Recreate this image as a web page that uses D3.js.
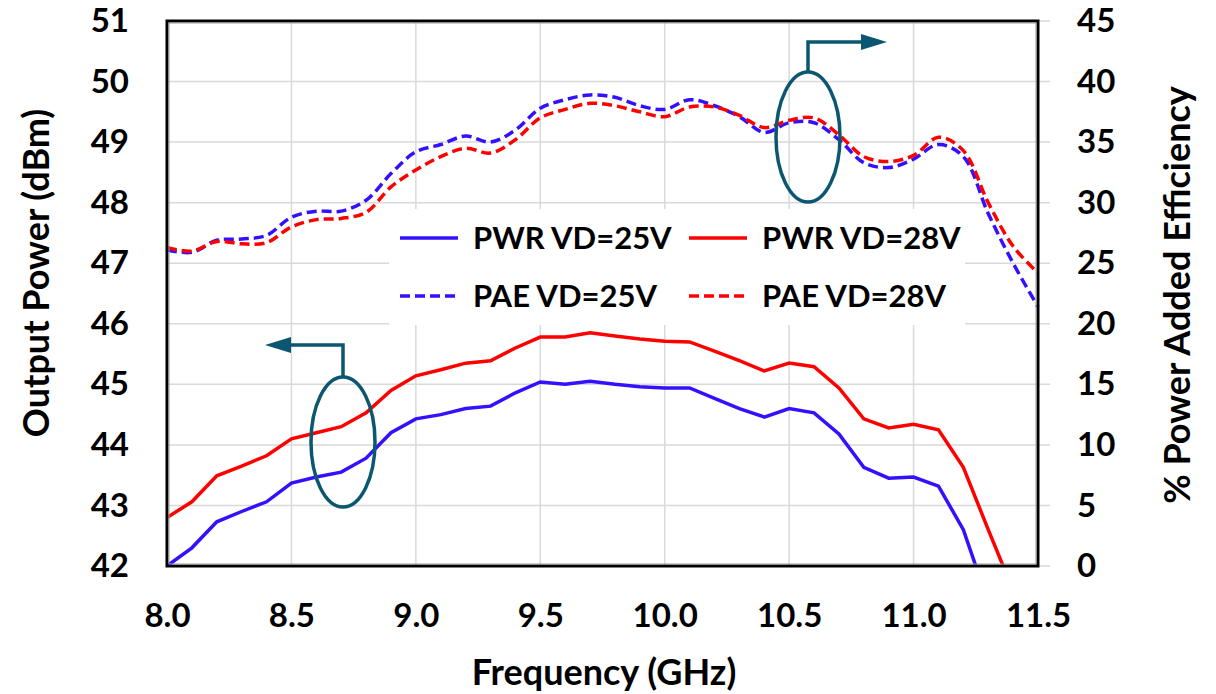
<!DOCTYPE html>
<html>
<head>
<meta charset="utf-8">
<script src="https://cdn.jsdelivr.net/npm/d3@7.9.0/dist/d3.min.js"></script>
<style>
  body { margin: 0; background: #fff; }
  svg { display: block; font-family: Lato, "Open Sans", sans-serif; font-weight: bold; }
</style>
</head>
<body>
<svg id="chart" width="1216" height="694"></svg>
<script>
// frequency points (GHz)
const freq = [8.0, 8.1, 8.2, 8.3, 8.4, 8.5, 8.6, 8.7, 8.8, 8.9,
              9.0, 9.1, 9.2, 9.3, 9.4, 9.5, 9.6, 9.7, 9.8, 9.9,
              10.0, 10.1, 10.2, 10.3, 10.4, 10.5, 10.6, 10.7, 10.8, 10.9,
              11.0, 11.1, 11.2, 11.3, 11.4, 11.5];

// output power (dBm), null = off the chart
const pwr25 = [42.0, 42.3, 42.73, 42.9, 43.06, 43.37, 43.47, 43.55, 43.78, 44.2,
               44.43, 44.5, 44.6, 44.64, 44.86, 45.04, 45.0, 45.05, 45.0, 44.96,
               44.94, 44.94, 44.77, 44.6, 44.46, 44.6, 44.53, 44.18, 43.63, 43.45,
               43.47, 43.32, 42.6, 41.4, null, null];
const pwr28 = [42.8, 43.06, 43.49, 43.65, 43.82, 44.1, 44.2, 44.3, 44.53, 44.9,
               45.14, 45.24, 45.35, 45.39, 45.6, 45.78, 45.78, 45.85, 45.8, 45.75,
               45.71, 45.7, 45.55, 45.39, 45.22, 45.35, 45.29, 44.94, 44.43, 44.28,
               44.34, 44.25, 43.63, 42.6, 41.6, null];

// power added efficiency (%)
const pae25 = [26.1, 25.9, 26.9, 27.0, 27.3, 28.8, 29.3, 29.3, 30.2, 32.4,
               34.2, 34.8, 35.5, 35.0, 36.0, 37.8, 38.5, 38.9, 38.7, 38.0,
               37.7, 38.5, 38.0, 37.1, 35.8, 36.6, 36.6, 35.2, 33.3, 32.9,
               33.6, 34.8, 33.8, 29.1, 25.0, 21.4];
const pae28 = [26.3, 26.0, 26.8, 26.6, 26.7, 28.0, 28.6, 28.7, 29.2, 31.3,
               32.7, 33.8, 34.5, 34.1, 35.2, 37.0, 37.7, 38.2, 38.0, 37.5,
               37.1, 37.9, 37.9, 37.2, 36.2, 36.8, 37.0, 35.6, 33.8, 33.4,
               33.9, 35.4, 34.3, 30.0, 26.4, 24.2];

const xTicks = [8.0, 8.5, 9.0, 9.5, 10.0, 10.5, 11.0, 11.5];
const leftTicks = [42, 43, 44, 45, 46, 47, 48, 49, 50, 51];
const rightTicks = [0, 5, 10, 15, 20, 25, 30, 35, 40, 45];

const BLUE = '#3311ff', RED = '#ff0000', TEAL = '#0b5670';

const svg = d3.select('#chart');
const m = { left: 167, top: 21, right: 1038, bottom: 566 };

const x = d3.scaleLinear().domain([8, 11.5]).range([m.left, m.right]);
const yL = d3.scaleLinear().domain([42, 51]).range([m.bottom, m.top]);
const yR = d3.scaleLinear().domain([0, 45]).range([m.bottom, m.top]);

// gridlines
svg.append('g').selectAll('line.h').data(leftTicks).join('line')
    .attr('x1', m.left).attr('x2', m.right + 12)
    .attr('y1', d => yL(d)).attr('y2', d => yL(d))
    .attr('stroke', '#d9d9d9').attr('stroke-width', 1.5);
svg.append('g').selectAll('line.v').data(xTicks).join('line')
    .attr('x1', d => x(d)).attr('x2', d => x(d))
    .attr('y1', m.top).attr('y2', m.bottom)
    .attr('stroke', '#d9d9d9').attr('stroke-width', 1.5);

// legend background (covers the grid)
svg.append('rect')
    .attr('x', 389).attr('y', 209).attr('width', 576).attr('height', 116)
    .attr('fill', '#fff');

// clip lines to plot area
svg.append('clipPath').attr('id', 'plot')
  .append('rect').attr('x', m.left).attr('y', m.top)
    .attr('width', m.right - m.left + 2).attr('height', m.bottom - m.top);

const lineL = d3.line().defined(d => d[1] != null)
    .x(d => x(d[0])).y(d => yL(d[1]));
const lineR = d3.line()
    .x(d => x(d[0])).y(d => yR(d[1]))
    .curve(d3.curveCatmullRom.alpha(0.5));

const series = [
  { vals: pae25, line: lineR, color: BLUE, dash: '10,5' },
  { vals: pae28, line: lineR, color: RED, dash: '10,5' },
  { vals: pwr25, line: lineL, color: BLUE, dash: null },
  { vals: pwr28, line: lineL, color: RED, dash: null }
];
const gLines = svg.append('g').attr('clip-path', 'url(#plot)');
series.forEach(s => {
  gLines.append('path')
      .attr('d', s.line(freq.map((f, i) => [f, s.vals[i]])))
      .attr('fill', 'none')
      .attr('stroke', s.color)
      .attr('stroke-width', 3.5)
      .attr('stroke-dasharray', s.dash);
});

// plot frame
svg.append('rect')
    .attr('x', m.left).attr('y', m.top)
    .attr('width', m.right - m.left).attr('height', m.bottom - m.top)
    .attr('fill', 'none').attr('stroke', '#000').attr('stroke-width', 3);
svg.append('rect')
    .attr('x', m.left + 2).attr('y', m.top + 2)
    .attr('width', m.right - m.left - 4).attr('height', m.bottom - m.top - 4)
    .attr('fill', 'none').attr('stroke', '#999').attr('stroke-width', 1);

// axes
const axL = svg.append('g').attr('transform', `translate(${m.left},0)`)
    .call(d3.axisLeft(yL).tickValues(leftTicks).tickFormat(d3.format('d')).tickSize(0).tickPadding(38));
const axR = svg.append('g').attr('transform', `translate(${m.right},0)`)
    .call(d3.axisRight(yR).tickValues(rightTicks).tickFormat(d3.format('d')).tickSize(0).tickPadding(39));
const axB = svg.append('g').attr('transform', `translate(0,${m.bottom})`)
    .call(d3.axisBottom(x).tickValues(xTicks).tickFormat(d3.format('.1f')).tickSize(0).tickPadding(38));
[axL, axR, axB].forEach(a => {
  a.select('.domain').remove();
  a.selectAll('text').attr('font-size', 33).attr('font-family', 'Lato, sans-serif')
      .attr('font-weight', 'bold').attr('fill', '#000');
});

// axis titles
svg.append('text')
    .attr('transform', 'translate(49,273) rotate(-90)')
    .attr('text-anchor', 'middle').attr('font-size', 36)
    .text('Output Power (dBm)');
svg.append('text')
    .attr('transform', 'translate(1190,295) rotate(-90)')
    .attr('text-anchor', 'middle').attr('font-size', 36)
    .text('% Power Added Efficiency');
svg.append('text')
    .attr('x', 604).attr('y', 685)
    .attr('text-anchor', 'middle').attr('font-size', 36)
    .text('Frequency (GHz)');

// legend
const legend = [
  { label: 'PWR VD=25V', color: BLUE, dash: null, lx: 400, ly: 238 },
  { label: 'PWR VD=28V', color: RED, dash: null, lx: 689, ly: 238 },
  { label: 'PAE VD=25V', color: BLUE, dash: '10,5', lx: 400, ly: 296 },
  { label: 'PAE VD=28V', color: RED, dash: '10,5', lx: 689, ly: 296 }
];
const lg = svg.append('g').selectAll('g').data(legend).join('g');
lg.append('line')
    .attr('x1', d => d.lx).attr('x2', d => d.lx + 58)
    .attr('y1', d => d.ly).attr('y2', d => d.ly)
    .attr('stroke', d => d.color).attr('stroke-width', 3.5)
    .attr('stroke-dasharray', d => d.dash);
lg.append('text')
    .attr('x', d => d.lx + 73).attr('y', d => d.ly + 11)
    .attr('font-size', 31)
    .text(d => d.label);

// annotations: ellipses with arrows pointing to the axis
const arrows = [
  { cx: 343, cy: 442, topY: 345, tipX: 265, dir: -1 },
  { cx: 808, cy: 137, topY: 42, tipX: 887, dir: 1 }
];
const ann = svg.append('g');
arrows.forEach(a => {
  ann.append('ellipse')
      .attr('cx', a.cx).attr('cy', a.cy).attr('rx', 32).attr('ry', 65)
      .attr('fill', 'none').attr('stroke', TEAL).attr('stroke-width', 3.5);
  const base = a.tipX - a.dir * 26;
  ann.append('path')
      .attr('d', `M${a.cx},${a.cy - 65} V${a.topY} H${base}`)
      .attr('fill', 'none').attr('stroke', TEAL).attr('stroke-width', 3.5);
  ann.append('path')
      .attr('d', `M${a.tipX},${a.topY} L${base},${a.topY - 8} L${base},${a.topY + 8} Z`)
      .attr('fill', TEAL);
});
</script>
</body>
</html>
